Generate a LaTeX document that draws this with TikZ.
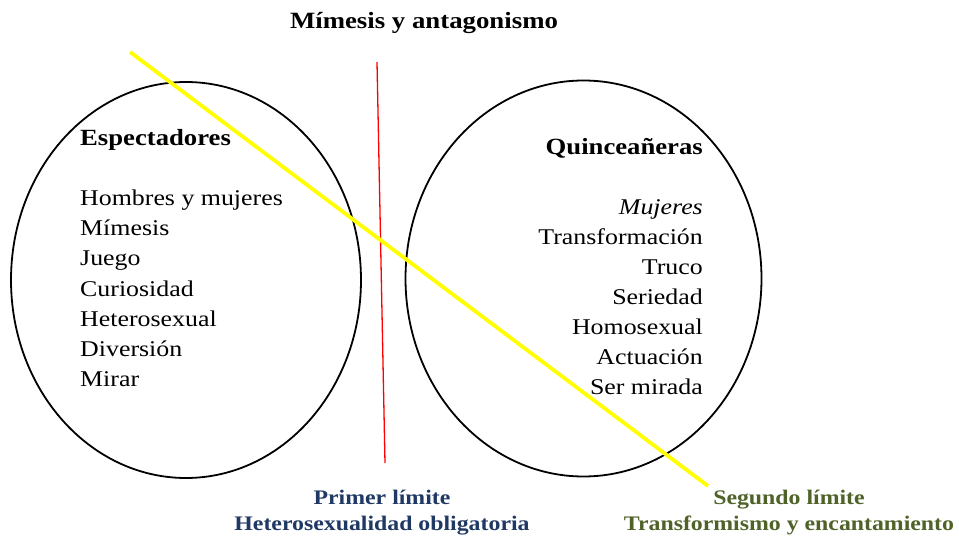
\documentclass[tikz,border=0pt]{standalone}
\usepackage{fontspec}
\setmainfont[FakeStretch=1.15]{Liberation Serif}
\definecolor{limblue}{HTML}{1F3864}
\definecolor{limgreen}{HTML}{4F6228}
\definecolor{ylw}{HTML}{FFFF00}
\tikzset{
  circ/.style={draw=black, line width=1.8pt},
  item/.style={inner sep=0pt, font=\fontsize{22.5}{26}\selectfont},
  head/.style={inner sep=0pt, font=\fontsize{23.2}{26}\selectfont\bfseries},
  lim/.style={inner sep=0pt, anchor=base, font=\fontsize{20.7}{26}\selectfont\bfseries},
}
\begin{document}
\begin{tikzpicture}[x=1pt,y=-1pt]
\useasboundingbox (0,0) rectangle (959,537);
% ellipses
\draw[circ] (186,280) ellipse [x radius=175, y radius=198];
\draw[circ] (583.5,278.5) ellipse [x radius=178, y radius=198];
% title
\node[inner sep=0pt, anchor=base, font=\fontsize{23.3}{26}\selectfont\bfseries] (title) at (424,29) {Mímesis y antagonismo};
% limits
\coordinate (r1) at (377,62);
\coordinate (r2) at (385,463);
\draw[red, line width=1.3pt] (r1) -- (r2);
\coordinate (y1) at (130,52);
\coordinate (y2) at (708,486);
\draw[ylw, line width=3.8pt] (y1) -- (y2);
% left texts
\node[head, anchor=base west] (esp) at (80,146) {Espectadores};
\node[item, anchor=base west] (l1) at (80,206) {Hombres y mujeres};
\node[item, anchor=base west] (l2) at (80,236) {Mímesis};
\node[item, anchor=base west] (l3) at (80,266) {Juego};
\node[item, anchor=base west] (l4) at (80,297) {Curiosidad};
\node[item, anchor=base west] (l5) at (80,327) {Heterosexual};
\node[item, anchor=base west] (l6) at (80,357) {Diversión};
\node[item, anchor=base west] (l7) at (80,387) {Mirar};
% right texts
\node[head, anchor=base east] (qui) at (703,155) {Quinceañeras};
\node[item, anchor=base east] (q1) at (703,215) {\itshape Mujeres};
\node[item, anchor=base east] (q2) at (703,245) {Transformación};
\node[item, anchor=base east] (q3) at (703,275) {Truco};
\node[item, anchor=base east] (q4) at (703,305) {Seriedad};
\node[item, anchor=base east] (q5) at (703,335) {Homosexual};
\node[item, anchor=base east] (q6) at (703,365) {Actuación};
\node[item, anchor=base east] (q7) at (703,395) {Ser mirada};
% limit labels
\node[lim, text=limblue] (lab1a) at (382,504) {Primer límite};
\node[lim, text=limblue] (lab1b) at (382,530) {Heterosexualidad obligatoria};
\node[lim, text=limgreen] (lab2a) at (789,504) {Segundo límite};
\node[lim, text=limgreen] (lab2b) at (789,530) {Transformismo y encantamiento};
\end{tikzpicture}
\end{document}
